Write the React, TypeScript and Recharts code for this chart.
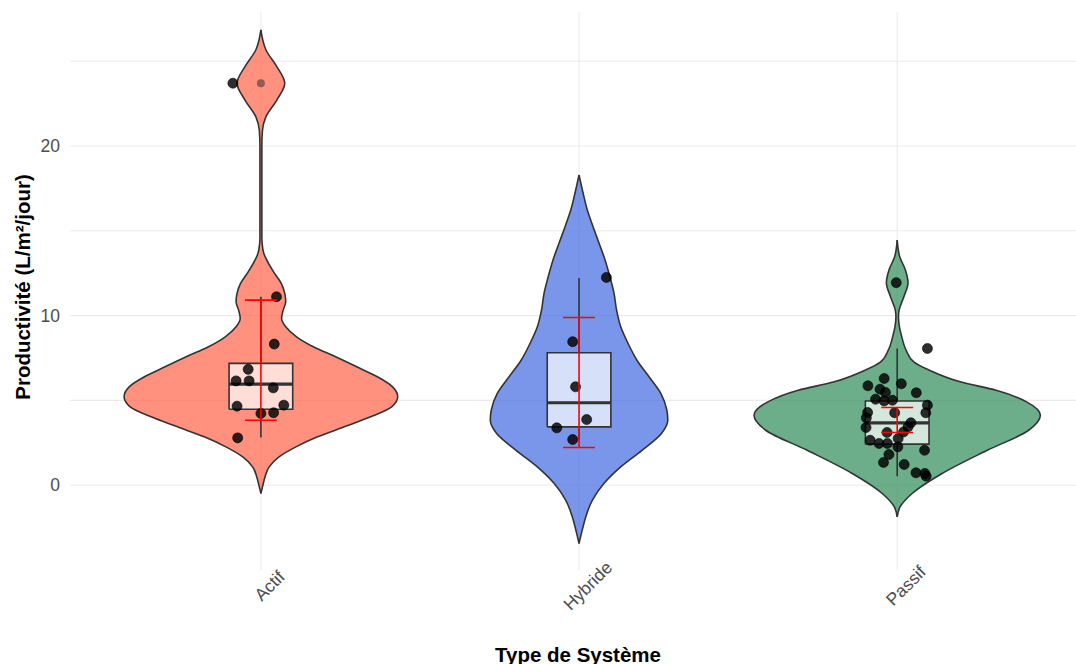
import { ComposedChart, Area, Scatter, XAxis, YAxis, CartesianGrid } from "recharts";

const categories = ["Actif", "Hybride", "Passif"];
const fills = ["#FF6347", "#4169E1", "#2E8B57"];

// violin outlines: y level and half width (in category units)
const actifY = [-0.49, -0.1, 0.49, 1.08, 1.67, 2.26, 2.85, 3.44, 4.03, 4.62, 5.21, 5.8, 6.39, 6.98, 7.57, 8.16, 8.75, 9.34, 9.83, 10.32, 10.81, 11.31, 11.9, 12.49, 13.08, 13.67, 14.26, 14.6, 17.0, 20.0, 20.94, 21.73, 22.71, 23.7, 24.68, 25.66, 26.84];
const actifHalf = [0, 0.005, 0.013, 0.026, 0.057, 0.11, 0.178, 0.262, 0.345, 0.411, 0.43, 0.414, 0.366, 0.301, 0.235, 0.165, 0.112, 0.078, 0.065, 0.07, 0.078, 0.075, 0.064, 0.043, 0.024, 0.009, 0.004, 0.003, 0.003, 0.003, 0.005, 0.016, 0.05, 0.075, 0.05, 0.016, 0];

const hybrideY = [-3.44, -2.65, -1.87, -0.88, 0.1, 1.08, 2.06, 3.05, 3.83, 4.42, 5.41, 6.39, 7.37, 8.36, 9.34, 10.32, 11.31, 12.29, 13.27, 14.26, 15.24, 16.22, 17.2, 18.29];
const hybrideHalf = [0, 0.01, 0.021, 0.042, 0.078, 0.131, 0.198, 0.259, 0.279, 0.276, 0.257, 0.22, 0.182, 0.154, 0.131, 0.118, 0.11, 0.097, 0.082, 0.063, 0.044, 0.026, 0.013, 0];

const passifY = [-1.87, -1.28, -0.49, 0.69, 2.06, 3.24, 4.13, 4.9, 5.6, 6.08, 6.79, 7.26, 7.96, 8.85, 9.34, 9.93, 10.32, 11.11, 11.94, 12.68, 13.47, 14.45];
const passifHalf = [0, 0.009, 0.047, 0.141, 0.283, 0.413, 0.45, 0.408, 0.311, 0.201, 0.1, 0.053, 0.028, 0.013, 0.007, 0.004, 0.006, 0.021, 0.034, 0.026, 0.008, 0];

// boxplot + error bar values per category
const boxQ1 = [4.48, 3.44, 2.42];
const boxMedian = [5.96, 4.86, 3.68];
const boxQ3 = [7.18, 7.81, 4.96];
const whiskerLow = [2.81, 2.69, 0.53];
const whiskerHigh = [11.11, 12.22, 8.06];
const errLow = [3.83, 2.22, 3.11];
const errHigh = [10.91, 9.89, 4.58];
const outliers = [{ x: 1, y: 23.7 }];

// jittered observations [x, y]
const actifPoints = [
  [1.049, 11.11], [1.042, 8.32], [0.96, 6.83], [0.922, 6.15], [0.963, 6.15], [1.039, 5.74],
  [0.925, 4.66], [1.072, 4.72], [1.0, 4.23], [1.04, 4.27], [0.927, 2.79], [0.912, 23.7],
];
const hybridePoints = [
  [2.086, 12.25], [1.98, 8.46], [1.989, 5.8], [2.024, 3.87], [1.93, 3.38], [1.98, 2.69],
];
const passifPoints = [
  [2.997, 11.94], [3.095, 8.06], [2.959, 6.29], [2.908, 5.86], [3.013, 5.98], [2.946, 5.66],
  [2.963, 5.47], [3.06, 5.45], [2.932, 5.07], [2.959, 4.97], [2.985, 5.01], [3.095, 4.72],
  [2.907, 4.29], [2.992, 4.27], [3.09, 4.27], [2.903, 3.97], [3.043, 3.68], [3.034, 3.44],
  [2.902, 3.4], [3.02, 3.14], [2.968, 3.11], [2.915, 2.65], [2.943, 2.46], [2.969, 2.46],
  [3.003, 2.75], [3.002, 2.26], [3.086, 2.06], [2.974, 1.81], [2.957, 1.34], [3.022, 1.22],
  [3.059, 0.73], [3.091, 0.53], [3.087, 0.69],
];

const yTicks = [0, 10, 20];
const gridY = [0, 5, 10, 15, 20, 25];

const violins = [
  [actifY, actifHalf],
  [hybrideY, hybrideHalf],
  [passifY, passifHalf],
].map(([ys, half], i) => ys.map((y, k) => ({ y, range: [i + 1 - half[k], i + 1 + half[k]] })));

const pointSets = [actifPoints, hybridePoints, passifPoints].map((pts) => pts.map(([x, y]) => ({ x, y })));

const BOX = 0.1;
const CAP = 0.05;
const font = "'Liberation Sans', Arial, sans-serif";

const noShape = () => <g />;
const Dot = (p: any) => (
  <circle cx={p.cx} cy={p.cy} r={5} fill="#000" fillOpacity={0.82} stroke="#000" strokeWidth={0.6} />
);
const OutlierDot = (p: any) => <circle cx={p.cx} cy={p.cy} r={4} fill="#333" fillOpacity={0.55} />;

function seg(key: string, pts: { x: number; y: number }[], stroke: string, width: number) {
  return (
    <Scatter
      key={key}
      data={pts}
      line={{ stroke, strokeWidth: width }}
      lineType="joint"
      shape={noShape}
      isAnimationActive={false}
    />
  );
}

const CatTick = (props: any) => {
  const { x, y, payload } = props;
  const ax = x + 13;
  const ay = y + 20;
  return (
    <text x={ax} y={ay} transform={`rotate(-45, ${ax}, ${ay})`} textAnchor="middle" fill="#4D4D4D" fontSize={17.5} fontFamily={font}>
      {categories[payload.value - 1]}
    </text>
  );
};

export default function App() {
  return (
    <div style={{ position: "absolute", left: 0, top: 0, width: 1076, height: 664, background: "#fff" }}>
      <ComposedChart width={1076} height={664} layout="vertical" margin={{ top: 12, right: 0, bottom: 0, left: 0 }}>
        <CartesianGrid stroke="#EBEBEB" strokeWidth={1.1} horizontalValues={gridY} verticalValues={[1, 2, 3]} />
        <XAxis
          type="number"
          dataKey="x"
          domain={[0.4, 3.562]}
          ticks={[1, 2, 3]}
          height={94}
          axisLine={false}
          tickLine={false}
          tickSize={0}
          tickMargin={0}
          tick={<CatTick />}
          interval={0}
        />
        <YAxis
          type="number"
          dataKey="y"
          domain={[-5, 27.9]}
          reversed
          ticks={yTicks}
          width={70}
          axisLine={false}
          tickLine={false}
          tickSize={0}
          tickMargin={10}
          tick={{ fill: "#4D4D4D", fontSize: 17.5, fontFamily: font }}
          interval={0}
        />
        {violins.map((rows, i) => (
          <Area
            key={`v${i}`}
            data={rows}
            dataKey="range"
            type="monotone"
            fill={fills[i]}
            fillOpacity={0.7}
            stroke="#333333"
            strokeWidth={1.6}
            dot={false}
            activeDot={false}
            isAnimationActive={false}
          />
        ))}
        {categories.map((_, i) => (
          <Area
            key={`b${i}`}
            data={[
              { y: boxQ1[i], range: [i + 1 - BOX, i + 1 + BOX] },
              { y: boxQ3[i], range: [i + 1 - BOX, i + 1 + BOX] },
            ]}
            dataKey="range"
            type="linear"
            fill="#FFFFFF"
            fillOpacity={0.7}
            stroke="none"
            dot={false}
            activeDot={false}
            isAnimationActive={false}
          />
        ))}
        {categories.map((_, i) => {
          const c = i + 1;
          return [
            seg(`wl${i}`, [{ x: c, y: whiskerLow[i] }, { x: c, y: boxQ1[i] }], "#333333", 1.6),
            seg(`wh${i}`, [{ x: c, y: boxQ3[i] }, { x: c, y: whiskerHigh[i] }], "#333333", 1.6),
            seg(
              `bx${i}`,
              [
                { x: c - BOX, y: boxQ1[i] },
                { x: c + BOX, y: boxQ1[i] },
                { x: c + BOX, y: boxQ3[i] },
                { x: c - BOX, y: boxQ3[i] },
                { x: c - BOX, y: boxQ1[i] },
              ],
              "#333333",
              1.6
            ),
            seg(`md${i}`, [{ x: c - BOX, y: boxMedian[i] }, { x: c + BOX, y: boxMedian[i] }], "#333333", 3.2),
          ];
        })}
        <Scatter data={outliers} shape={OutlierDot} isAnimationActive={false} />
        {pointSets.map((pts, i) => (
          <Scatter key={`p${i}`} data={pts} shape={Dot} isAnimationActive={false} />
        ))}
        {categories.map((_, i) => {
          const c = i + 1;
          return seg(
            `e${i}`,
            [
              { x: c - CAP, y: errHigh[i] },
              { x: c + CAP, y: errHigh[i] },
              { x: c, y: errHigh[i] },
              { x: c, y: errLow[i] },
              { x: c - CAP, y: errLow[i] },
              { x: c + CAP, y: errLow[i] },
            ],
            "#FF0000",
            1.6
          );
        })}
      </ComposedChart>
      <div
        style={{
          position: "absolute",
          left: 23,
          top: 287,
          transform: "translate(-50%, -50%) rotate(-90deg)",
          whiteSpace: "nowrap",
          fontFamily: font,
          fontWeight: "bold",
          fontSize: 20.5,
          color: "#000",
        }}
      >
        Productivité (L/m²/jour)
      </div>
      <div
        style={{
          position: "absolute",
          left: 578,
          top: 655,
          transform: "translate(-50%, -50%)",
          whiteSpace: "nowrap",
          fontFamily: font,
          fontWeight: "bold",
          fontSize: 20.5,
          color: "#000",
        }}
      >
        Type de Système
      </div>
    </div>
  );
}
